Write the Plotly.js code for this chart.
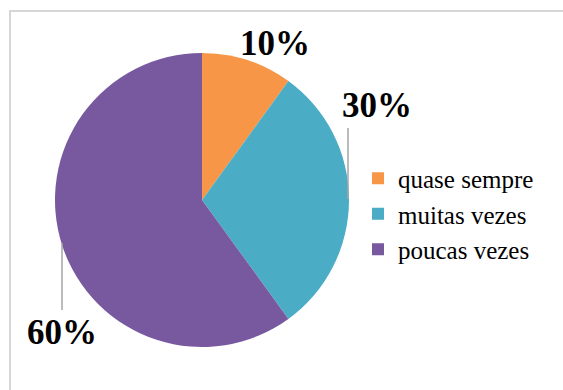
<!DOCTYPE html>
<html>
<head>
<meta charset="utf-8">
<script src="https://cdn.plot.ly/plotly-3.0.1.min.js"></script>
<style>html,body{margin:0;padding:0;background:#fff;}#chart{width:563px;height:390px;}</style>
</head>
<body>
<div id="chart"></div>
<script>
var categories = ["quase sempre", "muitas vezes", "poucas vezes"];
var values = [10, 30, 60];
var colors = ["#F79646", "#4BACC6", "#7859A0"];

var total = values.reduce(function(a, b){ return a + b; }, 0);
var pctLabels = values.map(function(v){ return Math.round(v / total * 100) + "%"; });

var W = 563, H = 390;
function px(x){ return x / W; }
function py(y){ return (H - y) / H; }

var trace = {
  type: "pie",
  labels: categories,
  values: values,
  sort: false,
  direction: "clockwise",
  rotation: 0,
  marker: {colors: colors, line: {width: 0}},
  textinfo: "none",
  hoverinfo: "label+percent",
  domain: {x: [px(55), px(349)], y: [py(347), py(53)]}
};

var labelPos = [[275, 43], [377, 105], [62, 332]];
var annotations = pctLabels.map(function(t, i){
  return {
    text: "<b>" + t + "</b>",
    x: px(labelPos[i][0]), y: py(labelPos[i][1]),
    xref: "paper", yref: "paper",
    showarrow: false,
    xanchor: "center", yanchor: "middle",
    font: {family: "'Liberation Serif', 'Times New Roman', serif", size: 35, color: "#000"}
  };
});

var layout = {
  width: W, height: H,
  margin: {l: 0, r: 0, t: 0, b: 0},
  paper_bgcolor: "#fff",
  showlegend: true,
  legend: {
    x: px(358), y: py(214), xanchor: "left", yanchor: "middle",
    font: {family: "'Liberation Serif', 'Times New Roman', serif", size: 25, color: "#000"},
    bgcolor: "rgba(0,0,0,0)"
  },
  annotations: annotations,
  shapes: [
    {type: "rect", xref: "paper", yref: "paper", x0: px(10), x1: 1.05, y0: -0.05, y1: py(11),
     line: {color: "#D6D6D6", width: 2}, fillcolor: "rgba(0,0,0,0)"},
    {type: "line", xref: "paper", yref: "paper", x0: px(348), x1: px(348), y0: py(128), y1: py(199),
     line: {color: "#A6A6A6", width: 1.5}},
    {type: "line", xref: "paper", yref: "paper", x0: px(62), x1: px(62), y0: py(243), y1: py(310),
     line: {color: "#A6A6A6", width: 1.5}}
  ]
};

Plotly.newPlot("chart", [trace], layout, {displayModeBar: false, staticPlot: true});
</script>
</body>
</html>
